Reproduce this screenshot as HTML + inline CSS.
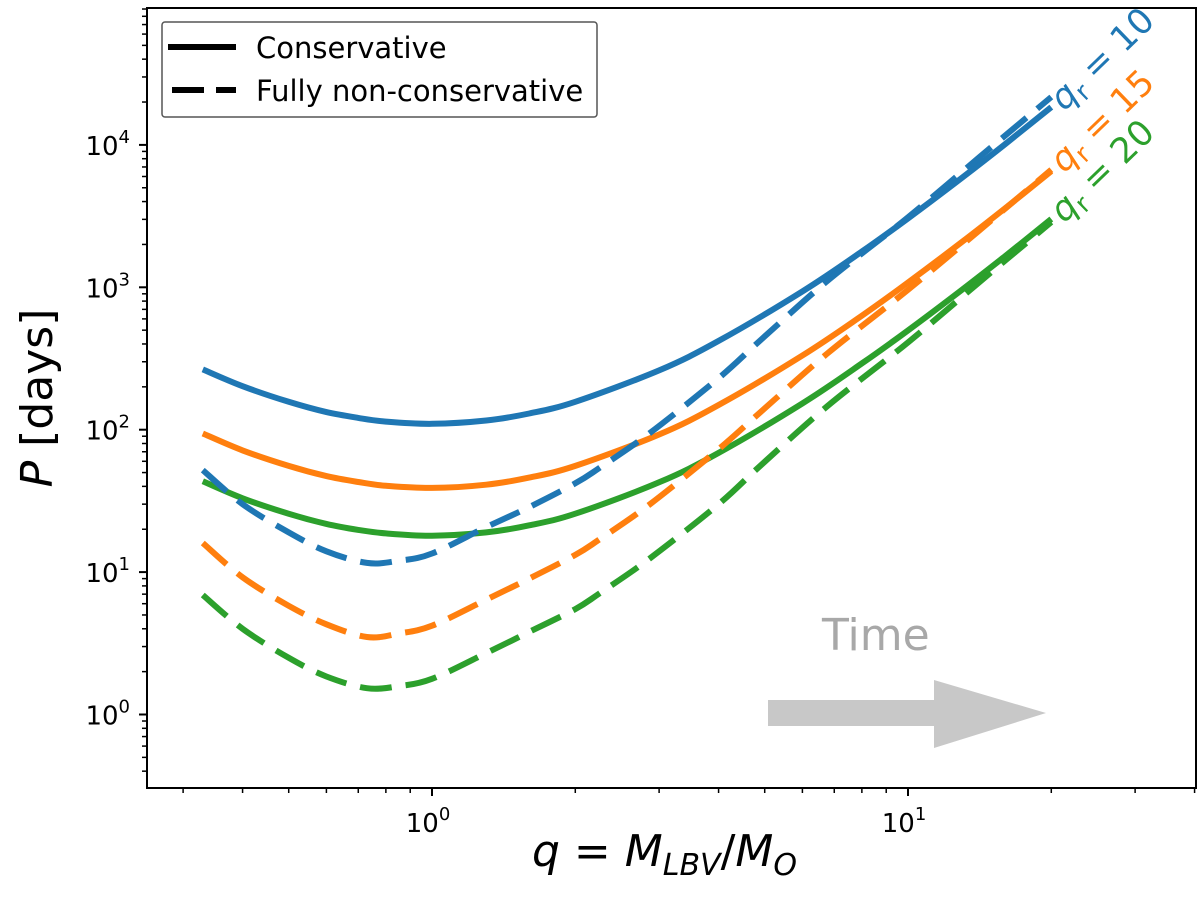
<!DOCTYPE html>
<html><head><meta charset="utf-8"><style>
html,body{margin:0;padding:0;background:#fff;}
svg text{font-family:"DejaVu Sans","Liberation Sans",sans-serif;}
</style></head><body>
<svg id="chart" width="1200" height="900" viewBox="0 0 1200 900" xmlns="http://www.w3.org/2000/svg">
<rect x="0" y="0" width="1200" height="900" fill="#fff"/>
<g id="ticks"></g>
<g id="series"></g>
<g>
<polygon points="768,700 934,700 934,680 1046,713 934,748 934,726 768,726" fill="#c8c8c8"/>
<text x="822" y="650" font-size="44" fill="#a8a8a8">Time</text>
</g>
<text transform="translate(1064,112) rotate(-44)" font-size="35" fill="#1f77b4"><tspan font-style="italic">q</tspan><tspan font-size="25" dy="7">r</tspan><tspan dy="-7"> = 10</tspan></text>
<text transform="translate(1064,174) rotate(-44)" font-size="35" fill="#ff7f0e"><tspan font-style="italic">q</tspan><tspan font-size="25" dy="7">r</tspan><tspan dy="-7"> = 15</tspan></text>
<text transform="translate(1064,224) rotate(-44)" font-size="35" fill="#2ca02c"><tspan font-style="italic">q</tspan><tspan font-size="25" dy="7">r</tspan><tspan dy="-7"> = 20</tspan></text>
<rect x="147" y="8" width="1049" height="780" fill="none" stroke="#000" stroke-width="2"/>
<g>
<rect x="162" y="22" width="435" height="95" rx="3" fill="#fff" stroke="#555" stroke-width="1.5"/>
<line x1="168" y1="47" x2="236" y2="47" stroke="#000" stroke-width="6"/>
<text x="256" y="58" font-size="29">Conservative</text>
<line x1="172" y1="90" x2="236" y2="90" stroke="#000" stroke-width="6" stroke-dasharray="32 12"/>
<text x="256" y="101" font-size="29">Fully non-conservative</text>
</g>
<text x="532" y="866" font-size="44"><tspan font-style="italic">q</tspan> = <tspan font-style="italic">M</tspan><tspan font-style="italic" font-size="30" dy="9">LBV</tspan><tspan dy="-9">/</tspan><tspan font-style="italic">M</tspan><tspan font-style="italic" font-size="30" dy="9">O</tspan></text>
<text transform="translate(52,398) rotate(-90)" text-anchor="middle" font-size="44"><tspan font-style="italic">P</tspan> [days]</text>
</svg>
<script>
const qSolid = [0.33,0.4,0.5,0.6,0.7,0.8,1.0,1.3,1.6,2,3,4,6,8,10,13,16,20];
const blueSolid = [265,202,157,133,121,114,110,116,130,157,261,420,936,1784,3045,5890,10130,18425];
const orangeSolid = [94,71.6,55.7,47.2,42.9,40.4,39,41.1,46.1,55.7,92.5,149,332,632,1080,2088,3591,6532];
const greenSolid = [43.4,33,25.7,21.8,19.8,18.7,18,19,21.3,25.7,42.7,68.7,153,292,498,964,1657,3015];
const qDashed = [0.33,0.4,0.5,0.6,0.73,0.85,1.0,1.3,1.6,2,2.25,2.87,4,4.9,6.75,10,14,20];
const blueDashed = [52,30,19,14,11.6,12,13.5,20.7,28.6,42,54,95,230,425,1100,3100,8000,21700];
const orangeDashed = [16,9.2,5.8,4.3,3.5,3.7,4.2,6.4,9,13.2,17,30,73,133,340,960,2450,6700];
const greenDashed = [6.9,4,2.5,1.85,1.53,1.58,1.78,2.7,3.8,5.5,7.1,12.5,30,56,145,410,1060,2870];
const xTickLabels = ["0","1"];
const yTickLabels = ["0","1","2","3","4"];

const NS="http://www.w3.org/2000/svg";
const X0=432, XD=476, Y0=714.5, YD=142.4;
function xs(q){return X0+Math.log10(q)*XD;}
function ys(p){return Y0-Math.log10(p)*YD;}
const L=147,R=1196,T=8,B=788;
const tg=document.getElementById('ticks');
function mk(tag,attrs,parent){const e=document.createElementNS(NS,tag);for(const k in attrs)e.setAttribute(k,attrs[k]);parent.appendChild(e);return e;}
for(let d=-1;d<=1;d++){for(let m=1;m<10;m++){const v=m*Math.pow(10,d);const x=xs(v);if(x<L||x>R)continue;
 const t=mk('line',{x1:x,y1:B,x2:x,y2:B+(m===1?8:5),stroke:'#000','stroke-width':m===1?2:1.5},tg);
 
 }}
xTickLabels.forEach(s=>{const x=xs(Math.pow(10,+s));
 const t=mk('text',{x:x-4,y:B+44,'font-size':26,'text-anchor':'middle'},tg);
 
 
 t.innerHTML='10<tspan font-size="18" dy="-12">'+s+'</tspan>';});
for(let d=-1;d<=4;d++){for(let m=1;m<10;m++){const v=m*Math.pow(10,d);const y=ys(v);if(y<T||y>B)continue;
 const t=mk('line',{x1:L,y1:y,x2:L-(m===1?8:5),y2:y,stroke:'#000','stroke-width':m===1?2:1.5},tg);
 
 }}
yTickLabels.forEach(s=>{const y=ys(Math.pow(10,+s));
 const t=mk('text',{x:130,y:y+10,'font-size':26,'text-anchor':'end'},tg);
 
 
 t.innerHTML='10<tspan font-size="18" dy="-12">'+s+'</tspan>';});
const sg=document.getElementById('series');
function path(qs,ps){const pts=qs.map((q,i)=>[xs(q),ys(ps[i])]);
 let d='M'+pts[0][0].toFixed(1)+','+pts[0][1].toFixed(1);
 for(let i=0;i<pts.length-1;i++){const p0=pts[i-1]||pts[i],p1=pts[i],p2=pts[i+1],p3=pts[i+2]||p2;
  const c1=[p1[0]+(p2[0]-p0[0])/6,p1[1]+(p2[1]-p0[1])/6],c2=[p2[0]-(p3[0]-p1[0])/6,p2[1]-(p3[1]-p1[1])/6];
  d+=' C'+c1.map(v=>v.toFixed(1))+' '+c2.map(v=>v.toFixed(1))+' '+p2.map(v=>v.toFixed(1));}
 return d;}
const defs=[
 [qSolid,blueSolid,'#1f77b4',false,'line-conservative-qr10'],
 [qSolid,orangeSolid,'#ff7f0e',false,'line-conservative-qr15'],
 [qSolid,greenSolid,'#2ca02c',false,'line-conservative-qr20'],
 [qDashed,blueDashed,'#1f77b4',true,'line-nonconservative-qr10'],
 [qDashed,orangeDashed,'#ff7f0e',true,'line-nonconservative-qr15'],
 [qDashed,greenDashed,'#2ca02c',true,'line-nonconservative-qr20']];
defs.forEach(s=>{const a={d:path(s[0],s[1]),fill:'none',stroke:s[2],'stroke-width':6};
 if(s[3])a['stroke-dasharray']='32 14';
 const p=mk('path',a,sg);
 
 });
</script>
</body></html>
